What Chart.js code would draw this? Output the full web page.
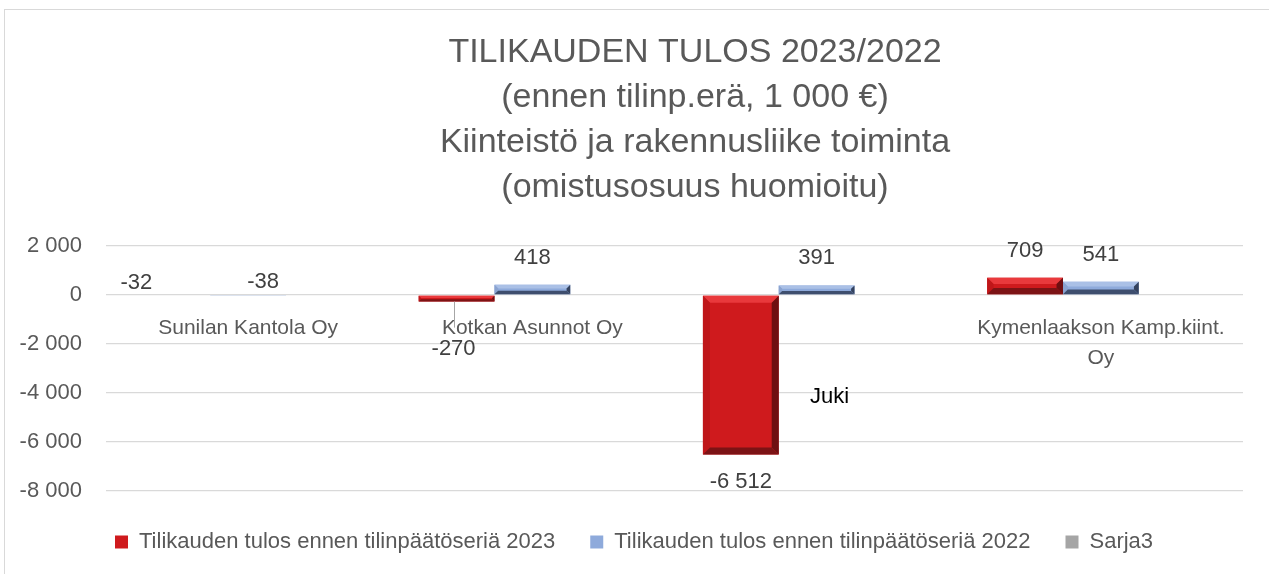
<!DOCTYPE html>
<html>
<head>
<meta charset="utf-8">
<script src="https://cdn.jsdelivr.net/npm/chart.js@4.4.1/dist/chart.umd.min.js"></script>
<style>
  html, body { margin: 0; padding: 0; background: #fff; overflow: hidden; }
  #frame {
    position: absolute; left: 4px; top: 9px; width: 1300px; height: 600px;
    border-left: 1.5px solid #d9d9d9; border-top: 1.5px solid #d9d9d9;
  }
  #chart { position: absolute; left: 5px; top: 10px; }
</style>
</head>
<body>
<div id="frame"></div>
<canvas id="chart" width="1264" height="564"></canvas>
<script>
// Données
const categories = ['Sunilan Kantola Oy', 'Kotkan Asunnot Oy', 'Juki', 'Kymenlaakson Kamp.kiint. Oy'];
const tickLabels = ['Sunilan Kantola Oy', 'Kotkan Asunnot Oy', '', ['Kymenlaakson Kamp.kiint.', 'Oy']];
const tulos2023 = [-32, -270, -6512, 709];
const tulos2022 = [-38, 418, 391, 541];
const sarja3 = [null, null, null, null];
const seriesNames = ['Tilikauden tulos ennen tilinpäätöseriä 2023', 'Tilikauden tulos ennen tilinpäätöseriä 2022', 'Sarja3'];
const titleLines = ['TILIKAUDEN TULOS 2023/2022', '(ennen tilinp.erä, 1 000 €)', 'Kiinteistö ja rakennusliike toiminta', '(omistusosuus huomioitu)'];
const yTicks = [-8000, -6000, -4000, -2000, 0, 2000];

const FONT = '"Liberation Sans", Arial, sans-serif';
const GRAY = '#595959';

// format "1 000" avec espace
function fmt(v) {
    const s = Math.abs(v).toString().replace(/\B(?=(\d{3})+(?!\d))/g, ' ');
    return (v < 0 ? '-' : '') + s;
}

// couleurs du biseau (face, haut, gauche, droite, bas)
const bevelColors = [
    ['#cf1a1d', '#e9393c', '#bf1619', '#6e0f11', '#7c1315'],
    ['#8eaadb', '#aac0e6', '#8aa3d0', '#34425e', '#3e4e6e']
];

// déplacements manuels des étiquettes (comme dans Excel)
const labelNudge = { '0-0': [-36, -40], '1-0': [15, -41], '0-1': [-3, 20] };

const bevelPlugin = {
    id: 'bevel',
    afterDatasetsDraw(chart) {
        const ctx = chart.ctx;
        [0, 1].forEach(di => {
            const c = bevelColors[di];
            chart.getDatasetMeta(di).data.forEach(el => {
                const l = el.x - el.width / 2, r = el.x + el.width / 2;
                const t = Math.min(el.y, el.base), bo = Math.max(el.y, el.base);
                const h = bo - t;
                if (h < 2) return;
                const b = Math.min(7, h / 2.6, el.width / 4);
                const poly = (pts, col) => {
                    ctx.beginPath();
                    ctx.moveTo(pts[0][0], pts[0][1]);
                    pts.slice(1).forEach(p => ctx.lineTo(p[0], p[1]));
                    ctx.closePath();
                    ctx.fillStyle = col;
                    ctx.fill();
                };
                ctx.save();
                poly([[l, t], [r, t], [r - b, t + b], [l + b, t + b]], c[1]);
                poly([[l, t], [l + b, t + b], [l + b, bo - b], [l, bo]], c[2]);
                poly([[r, t], [r - b, t + b], [r - b, bo - b], [r, bo]], c[3]);
                poly([[l, bo], [r, bo], [r - b, bo - b], [l + b, bo - b]], c[4]);
                ctx.restore();
            });
        });
    }
};

const labelsPlugin = {
    id: 'valueLabels',
    afterDatasetsDraw(chart) {
        const ctx = chart.ctx;
        ctx.save();
        ctx.font = '22px ' + FONT;
        ctx.textAlign = 'center';
        ctx.textBaseline = 'middle';
        [0, 1].forEach(di => {
            const vals = chart.data.datasets[di].data;
            chart.getDatasetMeta(di).data.forEach((el, i) => {
                const v = vals[i];
                let x = el.x;
                let y = v >= 0 ? el.y - 27 : el.y + 27;
                const n = labelNudge[di + '-' + i];
                if (n) {
                    x += n[0]; y += n[1];
                    if (n[1] > 0) {
                        // trait de rappel
                        ctx.strokeStyle = '#a6a6a6';
                        ctx.lineWidth = 1;
                        ctx.beginPath();
                        ctx.moveTo(Math.round(x) + 0.5, el.y);
                        ctx.lineTo(Math.round(x) + 0.5, y - 21);
                        ctx.stroke();
                    }
                }
                ctx.fillStyle = '#404040';
                ctx.fillText(fmt(v), x, y);
            });
        });
        // texte "Juki" sous la troisième catégorie
        const xs = chart.scales.x, ys = chart.scales.y;
        ctx.fillStyle = '#000000';
        ctx.fillText(categories[2], xs.getPixelForValue(2) + 13, ys.getPixelForValue(-4170));
        ctx.restore();
    }
};

// recentrer titre et légende comme dans l'original
const placePlugin = {
    id: 'place',
    afterLayout(chart) {
        const tb = chart.titleBlock;
        const dx = 690 - (tb.left + tb.right) / 2;
        tb.left += dx; tb.right += dx;
        const lg = chart.legend;
        lg.left = 110 - lg.options.labels.padding;
        lg.right = lg.left + 2000;
        lg.top += 5; lg.bottom += 5;
    }
};

const ctx = document.getElementById('chart').getContext('2d');
const chart = new Chart(ctx, {
    type: 'bar',
    data: {
        labels: categories,
        datasets: [
            { label: seriesNames[0], data: tulos2023, backgroundColor: bevelColors[0][0], borderWidth: 0 },
            { label: seriesNames[1], data: tulos2022, backgroundColor: bevelColors[1][0], borderWidth: 0 },
            { label: seriesNames[2], data: sarja3, backgroundColor: '#a5a5a5', borderWidth: 0 }
        ]
    },
    options: {
        responsive: false,
        animation: false,
        categoryPercentage: 0.8,
        barPercentage: 1.0,
        layout: { padding: { left: 13, right: 26, top: 0, bottom: 16 } },
        plugins: {
            title: {
                display: true,
                text: titleLines,
                color: GRAY,
                font: { family: FONT, size: 34, weight: 'normal', lineHeight: 45 / 34 },
                padding: { top: 20, bottom: 36 }
            },
            legend: {
                position: 'bottom',
                align: 'start',
                labels: {
                    color: GRAY,
                    font: { family: FONT, size: 22 },
                    boxWidth: 13,
                    boxHeight: 13,
                    padding: 35
                }
            },
            tooltip: { enabled: false }
        },
        scales: {
            x: {
                position: { y: 0 },
                grid: { display: false, drawTicks: false },
                border: { display: false },
                ticks: {
                    color: GRAY,
                    font: { family: FONT, size: 21, lineHeight: 1.4 },
                    padding: 19,
                    maxRotation: 0,
                    autoSkip: false,
                    callback: (v, i) => tickLabels[i]
                }
            },
            y: {
                min: -8000,
                max: 2000,
                afterFit: s => { s.width = 88; },
                afterBuildTicks: s => { s.ticks = yTicks.map(v => ({ value: v })); },
                grid: { color: '#d9d9d9', lineWidth: 1.3, drawTicks: false },
                border: { display: false },
                ticks: {
                    color: GRAY,
                    font: { family: FONT, size: 22 },
                    padding: 24,
                    callback: v => fmt(v)
                }
            }
        }
    },
    plugins: [bevelPlugin, labelsPlugin, placePlugin]
});
</script>
</body>
</html>
